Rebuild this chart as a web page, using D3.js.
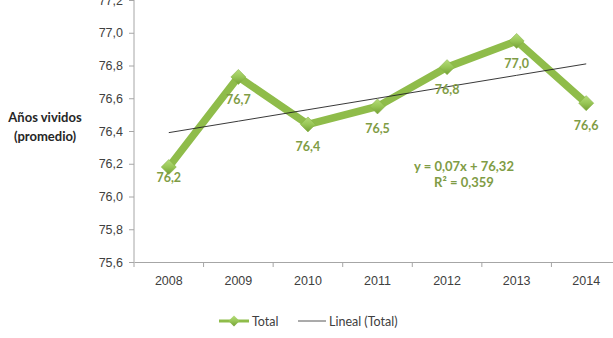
<!DOCTYPE html>
<html>
<head>
<meta charset="utf-8">
<script src="https://cdn.jsdelivr.net/npm/d3@7"></script>
<style>
  body { margin: 0; background: #fff; }
  svg { display: block; font-family: Lato, "Open Sans", sans-serif; }
</style>
</head>
<body>
<svg id="chart" width="613" height="338"></svg>
<script>
// Values
const years = ["2008", "2009", "2010", "2011", "2012", "2013", "2014"]
const totals = [76.18, 76.73, 76.44, 76.55, 76.79, 76.95, 76.57]
const totalLabels = ["76,2", "76,7", "76,4", "76,5", "76,8", "77,0", "76,6"]
const yTicks = [75.6, 75.8, 76.0, 76.2, 76.4, 76.6, 76.8, 77.0, 77.2]
const trend = { slope: 0.07, intercept: 76.32 }
const equationLines = ["y = 0,07x + 76,32", "R² = 0,359"]

const GREEN = "#8fbc4a"
const LABEL_GREEN = "#7f9c45"
const AXIS = "#a6a6a6"
const TEXT = "#404040"

const svg = d3.select("#chart")

const x = d3.scaleBand().domain(years).range([134, 621])
const y = d3.scaleLinear().domain([75.6, 77.2]).range([262, 0])
const cx = (yr) => x(yr) + x.bandwidth() / 2

// gradient for the bevelled diamond markers
const defs = svg.append("defs")
const grad = defs.append("linearGradient").attr("id", "mk").attr("x1", 0).attr("y1", 0).attr("x2", 0).attr("y2", 1)
grad.append("stop").attr("offset", "0%").attr("stop-color", "#b5dc7a")
grad.append("stop").attr("offset", "50%").attr("stop-color", "#98c656")
grad.append("stop").attr("offset", "100%").attr("stop-color", "#74a036")

// Y axis
const yAxis = svg.append("g")
  .attr("transform", "translate(134,0)")
  .call(d3.axisLeft(y).tickValues(yTicks).tickSize(5).tickPadding(6)
    .tickFormat((d) => d3.format(".1f")(d).replace(".", ",")))
yAxis.select(".domain").attr("stroke", AXIS).attr("d", "M-5,0H0V262")
yAxis.selectAll(".tick line").attr("stroke", AXIS)
yAxis.selectAll(".tick text").attr("fill", TEXT).style("font-size", "12.5px")

// X axis
const xAxis = svg.append("g")
  .attr("transform", "translate(0,262)")
  .call(d3.axisBottom(x).tickSize(0).tickPadding(14))
xAxis.select(".domain").attr("stroke", AXIS)
xAxis.selectAll(".tick text").attr("fill", TEXT).style("font-size", "12.5px")
xAxis.selectAll(".cat-tick")
  .data(years)
  .join("line")
  .attr("x1", (d) => x(d)).attr("x2", (d) => x(d))
  .attr("y1", 0).attr("y2", 5)
  .attr("stroke", AXIS)

// Y axis title
svg.append("text")
  .attr("x", 45).attr("y", 122)
  .attr("text-anchor", "middle")
  .attr("fill", "#262626")
  .style("font-size", "13px").style("font-weight", "bold")
  .selectAll("tspan")
  .data(["Años vividos", "(promedio)"])
  .join("tspan")
  .attr("x", 45).attr("dy", (d, i) => (i ? 19 : 0))
  .text((d) => d)

// Total series
const line = d3.line().x((d, i) => cx(years[i])).y((d) => y(d))
svg.append("path")
  .attr("d", line(totals))
  .attr("fill", "none")
  .attr("stroke", GREEN)
  .attr("stroke-width", 7.5)
  .attr("stroke-linejoin", "miter")

// Linear trend line
svg.append("path")
  .attr("d", d3.line().x((d, i) => cx(years[i])).y((d, i) => y(trend.slope * (i + 1) + trend.intercept))(years))
  .attr("fill", "none")
  .attr("stroke", "#222")
  .attr("stroke-width", 0.9)

const diamond = (s) => `M0,${-s}L${s},0L0,${s}L${-s},0Z`

svg.selectAll(".mk")
  .data(totals)
  .join("path")
  .attr("transform", (d, i) => `translate(${cx(years[i])},${y(d)})`)
  .attr("d", diamond(7.5))
  .attr("fill", "url(#mk)")
  .attr("stroke", "#86b445")
  .attr("stroke-width", 0.6)

svg.selectAll(".lbl")
  .data(totals)
  .join("text")
  .attr("x", (d, i) => cx(years[i]))
  .attr("y", (d, i) => y(d) + (i === 0 ? 15 : 27))
  .attr("text-anchor", "middle")
  .attr("fill", LABEL_GREEN)
  .style("font-size", "12.5px")
  .style("font-weight", "bold")
  .text((d, i) => totalLabels[i])

// Trend equation
svg.append("g").selectAll("text")
  .data(equationLines)
  .join("text")
  .attr("x", 464).attr("y", (d, i) => 171 + i * 16)
  .attr("text-anchor", "middle")
  .attr("fill", LABEL_GREEN)
  .style("font-size", "13px")
  .style("font-weight", "bold")
  .text((d) => d)

// Legend
const lg = svg.append("g").attr("transform", "translate(0,321)")
lg.append("line").attr("x1", 219).attr("x2", 249).attr("stroke", GREEN).attr("stroke-width", 3)
lg.append("path").attr("transform", "translate(234,0)").attr("d", diamond(5.5)).attr("fill", "url(#mk)")
lg.append("text").attr("x", 252).attr("y", 4.5).attr("fill", TEXT).style("font-size", "12.5px").text("Total")
lg.append("line").attr("x1", 298).attr("x2", 326).attr("stroke", "#444").attr("stroke-width", 0.9)
lg.append("text").attr("x", 329).attr("y", 4.5).attr("fill", TEXT).style("font-size", "12.5px").text("Lineal (Total)")
</script>
</body>
</html>
